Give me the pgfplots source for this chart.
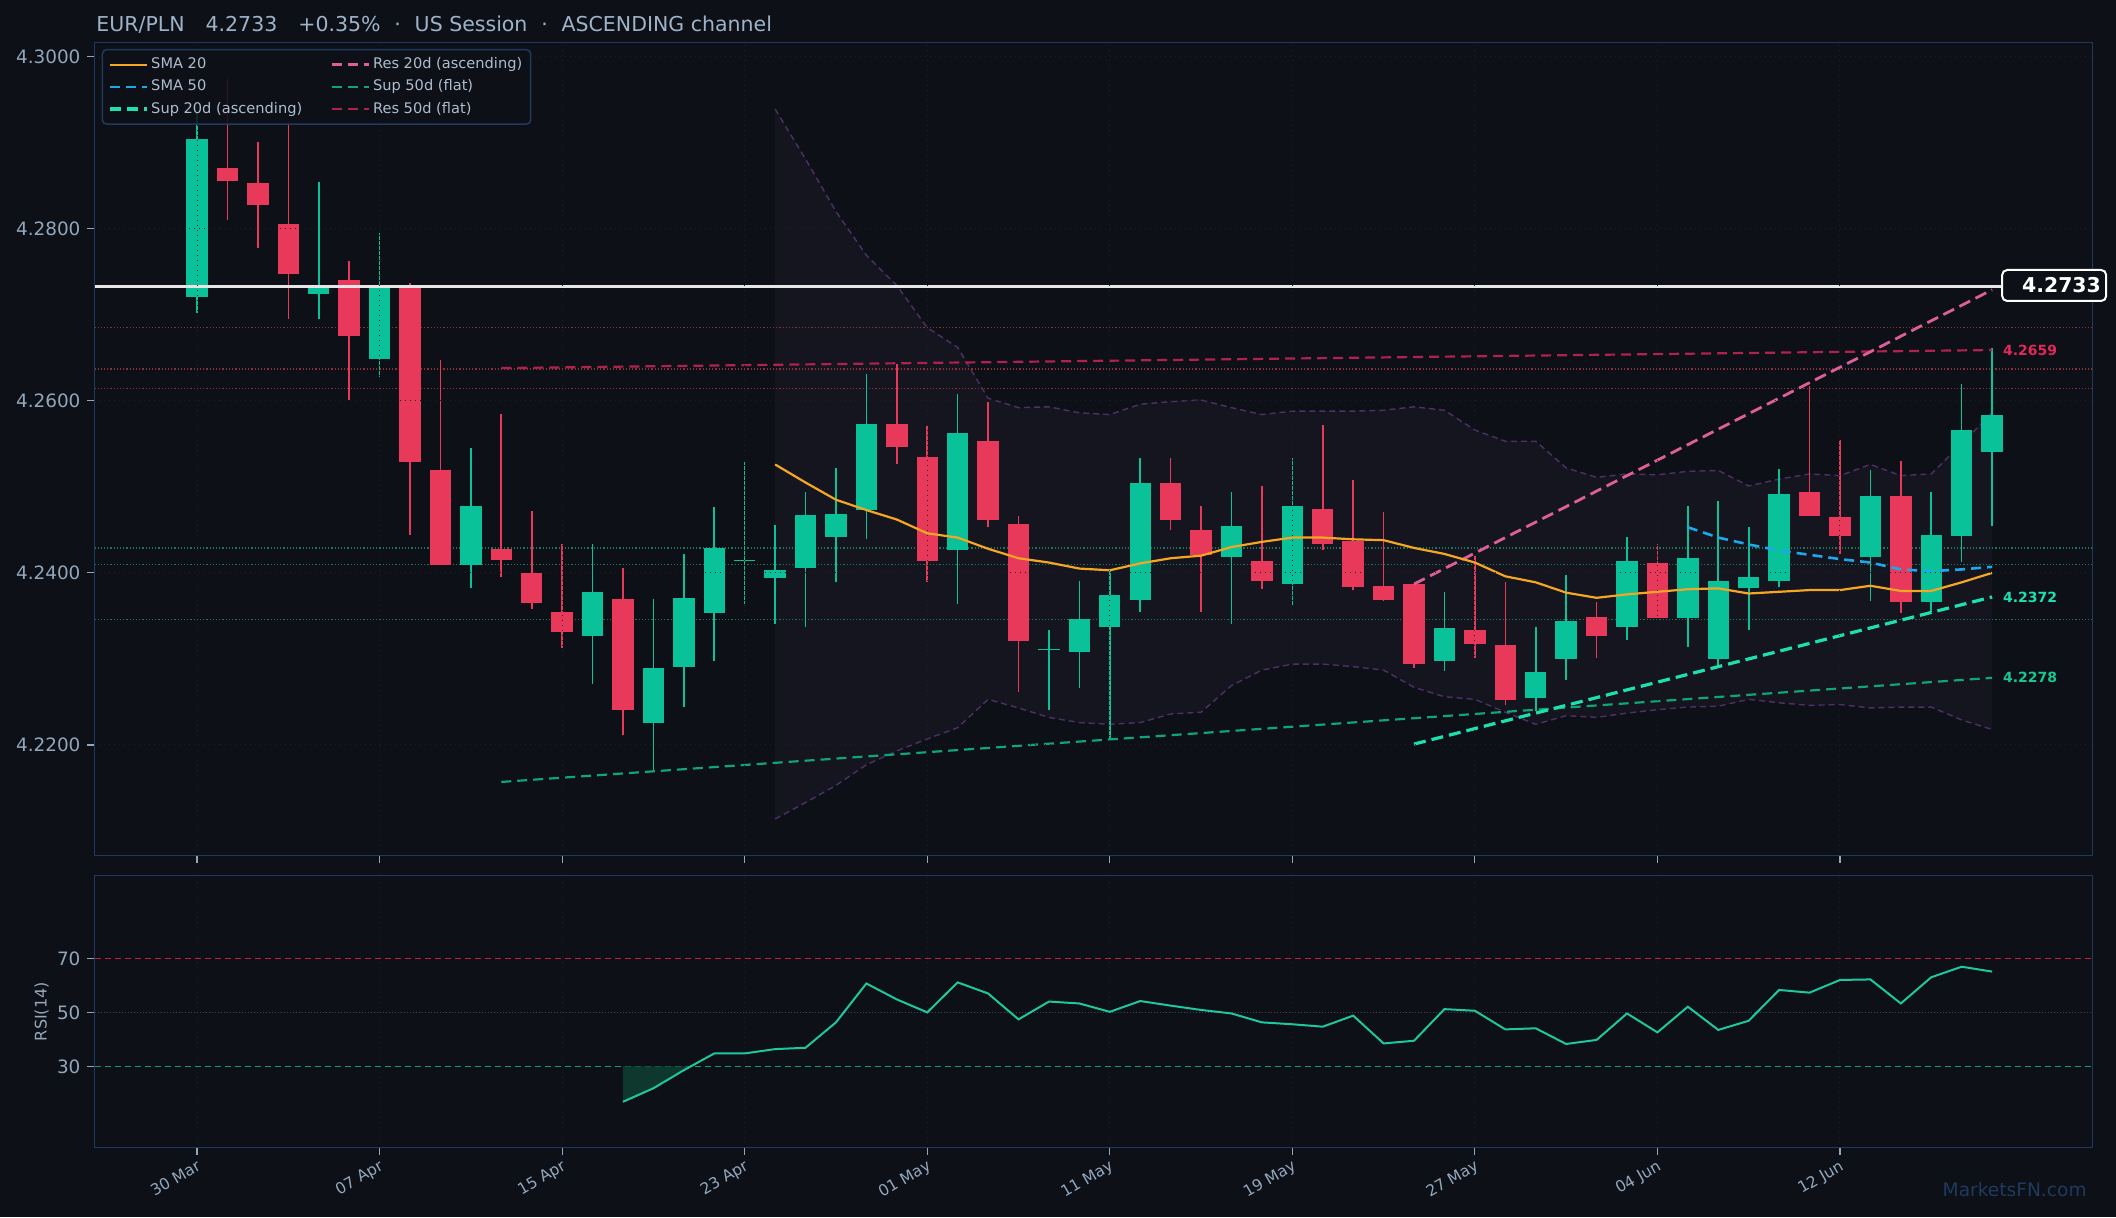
\documentclass[border=0pt]{standalone}
\usepackage{fontspec}
\setmainfont{DejaVu Sans}
\usepackage{pgfplots}
\pgfplotsset{compat=1.18}
\usepackage{pgfplotstable}

\definecolor{bg}{HTML}{0D1017}
\definecolor{axc}{HTML}{1F3A5C}
\definecolor{labc}{HTML}{93A7BC}
\definecolor{legc}{HTML}{AEBDCE}
\definecolor{gridc}{HTML}{1A1F29}
\definecolor{cgreen}{HTML}{0AC29A}
\definecolor{cred}{HTML}{E8395A}
\definecolor{sma20}{HTML}{F5A623}
\definecolor{sma50}{HTML}{1CA8EC}
\definecolor{sup20}{HTML}{1DE0B0}
\definecolor{res20}{HTML}{DE5E98}
\definecolor{sup50}{HTML}{0FA574}
\definecolor{res50}{HTML}{B0214C}
\definecolor{res50lab}{HTML}{E2285A}
\definecolor{sup50lab}{HTML}{17C98F}
\definecolor{bbline}{HTML}{4E2F66}
\definecolor{bbfill}{HTML}{15151F}
\definecolor{reddot}{HTML}{8A3232}
\definecolor{greendot}{HTML}{1F7650}
\definecolor{rsic}{HTML}{1FC79F}
\definecolor{rsifill}{HTML}{0E372D}
\definecolor{ob}{HTML}{C4203F}
\definecolor{os}{HTML}{0F9D6E}
\definecolor{midc}{HTML}{3A4150}
\definecolor{titlec}{HTML}{9FB3C8}
\definecolor{wm}{HTML}{1E3A5F}
\definecolor{whl}{HTML}{E6E6E6}

\pgfplotstableread{
i o h l c
0 4.2721 4.2934 4.2702 4.2904
4 4.2724 4.2854 4.2695 4.2731
6 4.2649 4.2795 4.2628 4.2732
9 4.2409 4.2545 4.2382 4.2478
13 4.2327 4.2433 4.2271 4.2378
15 4.2225 4.2370 4.2170 4.2289
16 4.2291 4.2422 4.2244 4.2371
17 4.2353 4.2477 4.2297 4.2429
18 4.2414 4.2529 4.2364 4.2414
19 4.2394 4.2456 4.2341 4.2403
20 4.2406 4.2494 4.2337 4.2467
21 4.2442 4.2522 4.2389 4.2468
22 4.2473 4.2631 4.2439 4.2573
25 4.2427 4.2608 4.2364 4.2563
28 4.2310 4.2334 4.2241 4.2311
29 4.2308 4.2390 4.2266 4.2346
30 4.2337 4.2404 4.2206 4.2374
31 4.2369 4.2534 4.2354 4.2504
34 4.2419 4.2494 4.2340 4.2455
36 4.2387 4.2534 4.2363 4.2478
41 4.2298 4.2378 4.2286 4.2336
44 4.2255 4.2337 4.2240 4.2285
45 4.2300 4.2398 4.2275 4.2344
47 4.2337 4.2442 4.2322 4.2414
49 4.2348 4.2478 4.2314 4.2417
50 4.2300 4.2484 4.2290 4.2391
51 4.2382 4.2453 4.2334 4.2395
52 4.2390 4.2521 4.2383 4.2492
55 4.2418 4.2519 4.2367 4.2489
57 4.2366 4.2494 4.2354 4.2444
58 4.2443 4.2620 4.2413 4.2566
59 4.2541 4.2661 4.2454 4.2583
}\greencandles

\pgfplotstableread{
i o h l c
1 4.2870 4.2974 4.2810 4.2855
2 4.2853 4.2901 4.2778 4.2827
3 4.2805 4.2924 4.2695 4.2747
5 4.2740 4.2763 4.2601 4.2675
7 4.2732 4.2737 4.2444 4.2529
8 4.2519 4.2647 4.2409 4.2409
10 4.2428 4.2585 4.2395 4.2415
11 4.2400 4.2472 4.2358 4.2365
12 4.2355 4.2433 4.2313 4.2331
14 4.2370 4.2406 4.2211 4.2241
23 4.2573 4.2643 4.2526 4.2546
24 4.2535 4.2571 4.2389 4.2414
26 4.2553 4.2599 4.2453 4.2461
27 4.2457 4.2466 4.2262 4.2321
32 4.2505 4.2533 4.2450 4.2461
33 4.2450 4.2478 4.2355 4.2421
35 4.2414 4.2501 4.2381 4.2390
37 4.2474 4.2572 4.2426 4.2433
38 4.2437 4.2508 4.2380 4.2383
39 4.2385 4.2471 4.2367 4.2369
40 4.2387 4.2387 4.2290 4.2294
42 4.2334 4.2420 4.2301 4.2317
43 4.2316 4.2389 4.2247 4.2252
46 4.2349 4.2366 4.2301 4.2327
48 4.2412 4.2433 4.2348 4.2348
53 4.2494 4.2617 4.2466 4.2466
54 4.2465 4.2554 4.2422 4.2443
56 4.2489 4.2530 4.2353 4.2366
}\redcandles

\pgfplotstableread{
i up lo
19 4.2939 4.2114
20 4.2881 4.2133
21 4.2820 4.2153
22 4.2769 4.2177
23 4.2734 4.2193
24 4.2685 4.2207
25 4.2662 4.2220
26 4.2603 4.2253
27 4.2592 4.2243
28 4.2593 4.2232
29 4.2586 4.2226
30 4.2584 4.2224
31 4.2596 4.2226
32 4.2599 4.2236
33 4.2601 4.2238
34 4.2592 4.2269
35 4.2584 4.2287
36 4.2588 4.2294
37 4.2588 4.2294
38 4.2588 4.2291
39 4.2589 4.2287
40 4.2593 4.2267
41 4.2589 4.2256
42 4.2566 4.2253
43 4.2553 4.2238
44 4.2553 4.2224
45 4.2522 4.2234
46 4.2511 4.2232
47 4.2515 4.2237
48 4.2514 4.2241
49 4.2518 4.2244
50 4.2519 4.2245
51 4.2501 4.2253
52 4.2509 4.2249
53 4.2515 4.2246
54 4.2513 4.2247
55 4.2526 4.2243
56 4.2513 4.2244
57 4.2515 4.2244
58 4.2550 4.2229
59 4.2586 4.2218
}\bbands

\pgfplotstableread{
i v
19 4.2526
20 4.2505
21 4.2485
22 4.2473
23 4.2462
24 4.2446
25 4.2441
26 4.2428
27 4.2417
28 4.2412
29 4.2405
30 4.2403
31 4.2411
32 4.2417
33 4.2420
34 4.2430
35 4.2436
36 4.2441
37 4.2441
38 4.2439
39 4.2438
40 4.2429
41 4.2422
42 4.2412
43 4.2396
44 4.2389
45 4.2377
46 4.2371
47 4.2375
48 4.2378
49 4.2381
50 4.2382
51 4.2376
52 4.2378
53 4.2380
54 4.2380
55 4.2385
56 4.2379
57 4.2379
58 4.2389
59 4.2400
}\smatwenty

\pgfplotstableread{
i v
49 4.2453
50 4.2441
51 4.2433
52 4.2426
53 4.2421
54 4.2416
55 4.2412
56 4.2404
57 4.2402
58 4.2404
59 4.2407
}\smafifty

\pgfplotstableread{
i v
14 16.9
15 21.9
16 28.6
17 34.8
18 34.8
19 36.4
20 36.9
21 46.3
22 60.7
23 54.8
24 50.0
25 61.1
26 57.0
27 47.4
28 54.0
29 53.3
30 50.2
31 54.2
32 52.5
33 50.9
34 49.6
35 46.3
36 45.6
37 44.7
38 48.8
39 38.5
40 39.5
41 51.2
42 50.6
43 43.7
44 44.1
45 38.3
46 39.8
47 49.6
48 42.6
49 52.1
50 43.5
51 46.9
52 58.3
53 57.3
54 62.0
55 62.2
56 53.3
57 63.0
58 66.9
59 65.1
}\rsi

\begin{document}
\begin{tikzpicture}
\fill[bg] (0,0) rectangle (1058pt,608.5pt);
\useasboundingbox (0,0) rectangle (1058pt,608.5pt);

\node[anchor=west, text=titlec, font=\fontsize{10.25}{12}\selectfont, inner sep=0pt] at (48pt,596pt)
  {EUR/PLN\hspace{10.5pt}4.2733\hspace{10.5pt}+0.35\%\hspace{6.9pt}·\hspace{6.9pt}US Session\hspace{6.9pt}·\hspace{6.9pt}ASCENDING channel};

\begin{axis}[
  at={(47.25pt,180.7pt)}, anchor=south west, scale only axis,
  width=999pt, height=406.5pt,
  xmin=-3.37, xmax=62.3, ymin=4.20714, ymax=4.30163,
  axis background/.style={fill=bg},
  axis line style={draw=axc, line width=0.75pt},
  xtick={0,6,...,54}, xticklabels={},
  ytick={4.22,4.24,4.26,4.28,4.30},
  yticklabels={4.2200,4.2400,4.2600,4.2800,4.3000},
  tick pos=left, tick align=outside, major tick length=3.5pt,
  tick style={draw=labc, line width=0.6pt},
  grid=major, major grid style={draw=gridc, line width=0.5pt, dotted},
  tick label style={text=labc, font=\fontsize{9.2}{10}\selectfont},
  axis on top,
  legend columns=2, legend cell align=left,
  legend image code/.code={\draw[#1] (0pt,0pt) -- (16.3pt,0pt); \path (0pt,0pt) -- (18.6pt,0pt);},
  legend style={at={(0,1)}, anchor=north west, xshift=3.6pt, yshift=-3.2pt,
    fill=bg, fill opacity=0.85, text opacity=1, draw=axc, line width=0.75pt,
    rounded corners=2pt, text=legc, font=\fontsize{7.3}{8.5}\selectfont,
    inner xsep=3pt, inner ysep=2.8pt, row sep=1.6pt, nodes={inner sep=1.2pt},
    /tikz/every even column/.append style={column sep=13pt}},
]
% legend entries (row-wise order)
\addlegendimage{sma20, line width=1.2pt}
\addlegendentry{SMA 20}
\addlegendimage{res20, line width=1.4pt, dash pattern=on 5pt off 3pt}
\addlegendentry{Res 20d (ascending)}
\addlegendimage{sma50, line width=1.3pt, dash pattern=on 5pt off 3pt}
\addlegendentry{SMA 50}
\addlegendimage{sup50, line width=1.1pt, dash pattern=on 5pt off 3pt}
\addlegendentry{Sup 50d (flat)}
\addlegendimage{sup20, line width=1.6pt, dash pattern=on 5.5pt off 3pt}
\addlegendentry{Sup 20d (ascending)}
\addlegendimage{res50, line width=1.1pt, dash pattern=on 5pt off 3pt}
\addlegendentry{Res 50d (flat)}

% Bollinger area
\addplot[forget plot, fill=bbfill, draw=none] coordinates {
(19,4.2939)(20,4.2881)(21,4.2820)(22,4.2769)(23,4.2734)(24,4.2685)(25,4.2662)(26,4.2603)(27,4.2592)(28,4.2593)(29,4.2586)(30,4.2584)(31,4.2596)(32,4.2599)(33,4.2601)(34,4.2592)(35,4.2584)(36,4.2588)(37,4.2588)(38,4.2588)(39,4.2589)(40,4.2593)(41,4.2589)(42,4.2566)(43,4.2553)(44,4.2553)(45,4.2522)(46,4.2511)(47,4.2515)(48,4.2514)(49,4.2518)(50,4.2519)(51,4.2501)(52,4.2509)(53,4.2515)(54,4.2513)(55,4.2526)(56,4.2513)(57,4.2515)(58,4.2550)(59,4.2586)
(59,4.2218)(58,4.2229)(57,4.2244)(56,4.2244)(55,4.2243)(54,4.2247)(53,4.2246)(52,4.2249)(51,4.2253)(50,4.2245)(49,4.2244)(48,4.2241)(47,4.2237)(46,4.2232)(45,4.2234)(44,4.2224)(43,4.2238)(42,4.2253)(41,4.2256)(40,4.2267)(39,4.2287)(38,4.2291)(37,4.2294)(36,4.2294)(35,4.2287)(34,4.2269)(33,4.2238)(32,4.2236)(31,4.2226)(30,4.2224)(29,4.2226)(28,4.2232)(27,4.2243)(26,4.2253)(25,4.2220)(24,4.2207)(23,4.2193)(22,4.2177)(21,4.2153)(20,4.2133)(19,4.2114)
} -- cycle;
\addplot[forget plot, bbline, line width=0.7pt, dash pattern=on 3pt off 2pt] table[x=i, y=up] {\bbands};
\addplot[forget plot, bbline, line width=0.7pt, dash pattern=on 3pt off 2pt] table[x=i, y=lo] {\bbands};

% dotted levels
\addplot[forget plot, reddot, line width=0.6pt, densely dotted] coordinates {(-3.37,4.2685)(62.3,4.2685)};
\addplot[forget plot, reddot, line width=0.6pt, densely dotted] coordinates {(-3.37,4.2637)(62.3,4.2637)};
\addplot[forget plot, reddot, line width=0.6pt, densely dotted] coordinates {(-3.37,4.2614)(62.3,4.2614)};
\addplot[forget plot, greendot, line width=0.6pt, densely dotted] coordinates {(-3.37,4.2429)(62.3,4.2429)};
\addplot[forget plot, greendot, line width=0.6pt, densely dotted] coordinates {(-3.37,4.2410)(62.3,4.2410)};
\addplot[forget plot, greendot, line width=0.6pt, densely dotted] coordinates {(-3.37,4.2346)(62.3,4.2346)};

% candles: wicks
\addplot[forget plot, draw=none, mark=none, error bars/.cd, y dir=plus, y explicit, error mark=none,
  error bar style={draw=cgreen, line width=0.8pt}]
  table[x=i, y=l, y error expr=\thisrow{h}-\thisrow{l}] {\greencandles};
\addplot[forget plot, draw=none, mark=none, error bars/.cd, y dir=plus, y explicit, error mark=none,
  error bar style={draw=cred, line width=0.8pt}]
  table[x=i, y=l, y error expr=\thisrow{h}-\thisrow{l}] {\redcandles};
% candles: bodies
\addplot[forget plot, draw=none, mark=none, error bars/.cd, y dir=plus, y explicit, error mark=none,
  error bar style={draw=cgreen, line width=10.7pt}]
  table[x=i, y=o, y error expr={max(\thisrow{c}-\thisrow{o},0.00012)}] {\greencandles};
\addplot[forget plot, draw=none, mark=none, error bars/.cd, y dir=plus, y explicit, error mark=none,
  error bar style={draw=cred, line width=10.7pt}]
  table[x=i, y=c, y error expr={max(\thisrow{o}-\thisrow{c},0.00012)}] {\redcandles};

% support / resistance
\addplot[forget plot, res50, line width=1.1pt, dash pattern=on 5pt off 3pt] coordinates {(10,4.2638)(59,4.2659)};
\addplot[forget plot, sup50, line width=1.1pt, dash pattern=on 5pt off 3pt] coordinates {(10,4.2157)(59,4.2278)};
\addplot[forget plot, res20, line width=1.4pt, dash pattern=on 6pt off 3pt] coordinates {(40,4.2387)(59,4.2729)};
\addplot[forget plot, sup20, line width=1.6pt, dash pattern=on 6pt off 3pt] coordinates {(40,4.2201)(59,4.2372)};

% moving averages
\addplot[forget plot, sma20, line width=1.1pt] table[x=i, y=v] {\smatwenty};
\addplot[forget plot, sma50, line width=1.3pt, dash pattern=on 5pt off 3pt] table[x=i, y=v] {\smafifty};

% last price
\addplot[forget plot, whl, line width=1.5pt] coordinates {(-3.37,4.2733)(62.3,4.2733)};

\coordinate (pbox) at (axis cs:61.04,4.2734);
\coordinate (ptxt) at (axis cs:61.28,4.2734);
\coordinate (l1) at (axis cs:59.35,4.2659);
\coordinate (l2) at (axis cs:59.35,4.2372);
\coordinate (l3) at (axis cs:59.35,4.2278);
\end{axis}

\node[draw=white, line width=1pt, rounded corners=2.5pt, fill=bg, minimum width=52pt, minimum height=15.5pt, inner sep=0pt] at (pbox) {};
\node[text=white, font=\bfseries\fontsize{10.2}{12}\selectfont, inner sep=0pt] at (ptxt) {4.2733};
\node[anchor=west, text=res50lab, font=\bfseries\fontsize{7}{8}\selectfont, inner sep=0pt] at (l1) {4.2659};
\node[anchor=west, text=sup20, font=\bfseries\fontsize{7}{8}\selectfont, inner sep=0pt] at (l2) {4.2372};
\node[anchor=west, text=sup50lab, font=\bfseries\fontsize{7}{8}\selectfont, inner sep=0pt] at (l3) {4.2278};

\begin{axis}[
  at={(47.25pt,34.65pt)}, anchor=south west, scale only axis,
  width=999pt, height=136pt,
  xmin=-3.37, xmax=62.3, ymin=-0.1, ymax=100.6,
  axis background/.style={fill=bg},
  axis line style={draw=axc, line width=0.75pt},
  xtick={0,6,...,54},
  xticklabels={30 Mar,07 Apr,15 Apr,23 Apr,01 May,11 May,19 May,27 May,04 Jun,12 Jun},
  ytick={30,50,70}, yticklabels={30,50,70},
  tick pos=left, tick align=outside, major tick length=3.5pt,
  tick style={draw=labc, line width=0.6pt},
  grid=major, major grid style={draw=gridc, line width=0.5pt, dotted},
  tick label style={text=labc, font=\fontsize{9.2}{10}\selectfont},
  xticklabel style={rotate=30, anchor=north east, font=\fontsize{7.8}{9}\selectfont, inner sep=1.5pt},
  ylabel={RSI(14)},
  ylabel style={at={(axis description cs:-0.0265,0.5)}, anchor=center, text=labc, font=\fontsize{8}{9}\selectfont},
]
\addplot[forget plot, ob, line width=0.8pt, densely dashed] coordinates {(-3.37,70)(62.3,70)};
\addplot[forget plot, os, line width=0.8pt, densely dashed] coordinates {(-3.37,30)(62.3,30)};
\addplot[forget plot, midc, line width=0.5pt, densely dotted] coordinates {(-3.37,50)(62.3,50)};
\addplot[forget plot, fill=rsifill, draw=none] coordinates {(14,30)(14,16.9)(15,21.9)(16,28.6)(16.23,30)} -- cycle;
\addplot[forget plot, rsic, line width=1pt] table[x=i, y=v] {\rsi};
\end{axis}

\node[anchor=east, text=wm, font=\fontsize{9.3}{10}\selectfont, inner sep=0pt] at (1043.5pt,13.5pt) {MarketsFN.com};
\end{tikzpicture}
\end{document}
